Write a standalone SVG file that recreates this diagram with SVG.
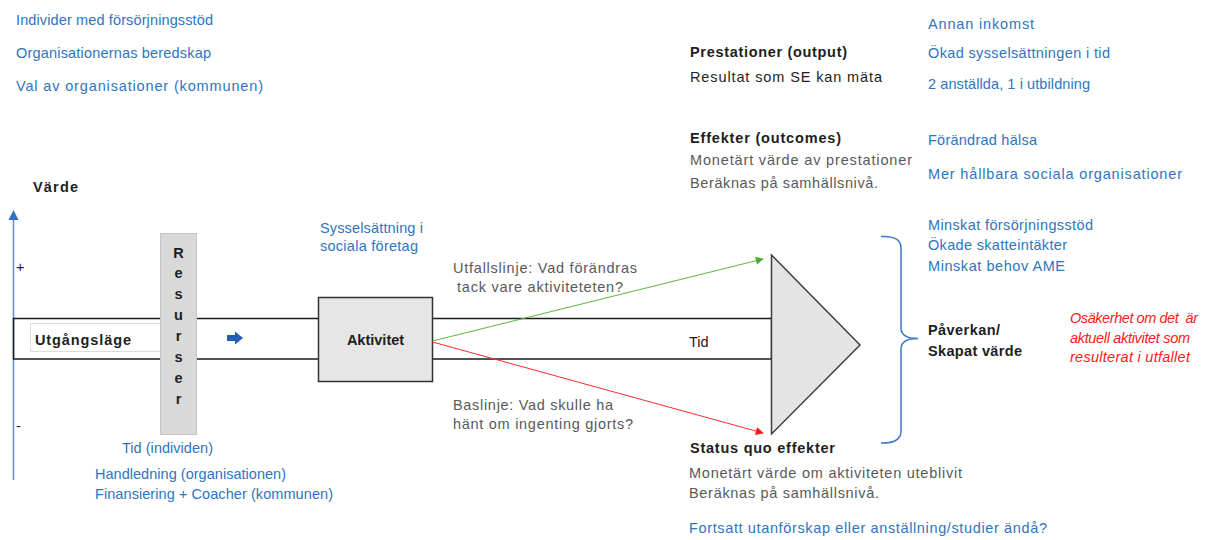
<svg xmlns="http://www.w3.org/2000/svg" width="1214" height="540" viewBox="0 0 1214 540">
  <style>
    text { font-family: "Liberation Sans", Arial, sans-serif; font-size: 14.5px; }
    .blue { fill: #2e75c0; }
    .gray { fill: #595959; }
    .dark { fill: #1e1e1e; }
    .b { font-weight: bold; }
    .red { fill: #ff1a1a; font-style: italic; font-size: 14px; }
    .line { stroke: #1a1a1a; stroke-width: 1.5; fill: none; }
  </style>
  <defs>
    <marker id="headGreen" viewBox="0 0 10 10" refX="9" refY="5" markerWidth="10" markerHeight="8" markerUnits="userSpaceOnUse" orient="auto">
      <path d="M0,0 L10,5 L0,10 Z" fill="#4caf30"/>
    </marker>
    <marker id="headRed" viewBox="0 0 10 10" refX="9" refY="5" markerWidth="10" markerHeight="8" markerUnits="userSpaceOnUse" orient="auto">
      <path d="M0,0 L10,5 L0,10 Z" fill="#ff1a1a"/>
    </marker>
  </defs>

  <rect width="1214" height="540" fill="#ffffff"/>

  <!-- value axis -->
  <g id="axis">
    <line x1="13.5" y1="218" x2="13.5" y2="480" stroke="#5b8fd0" stroke-width="1.5"/>
    <path d="M13.5,210 L18.5,220 L8.5,220 Z" fill="#2f6fc4"/>
    <text x="33" y="192" class="dark b" font-size="15" textLength="45">Värde</text>
    <text x="16" y="272" class="dark" font-size="13">+</text>
    <text x="16" y="431" class="dark" font-size="13">-</text>
  </g>

  <!-- time band -->
  <g id="band">
    <rect x="13.5" y="318.5" width="758" height="40.5" fill="#ffffff" class="line"/>
    <text x="689" y="347" class="dark" font-size="16.5">Tid</text>
  </g>

  <g id="utgangslage">
    <rect x="30.5" y="323.5" width="130" height="28" fill="#ffffff" stroke="#dcdcdc" stroke-width="1"/>
    <text x="35" y="345" class="dark b" font-size="16" textLength="96">Utgångsläge</text>
  </g>

  <g id="resurser">
    <rect x="160.5" y="233.5" width="36" height="201" fill="#d9d9d9" stroke="#c4c4c4" stroke-width="1"/>
    <g class="dark b" font-size="18" text-anchor="middle">
      <text x="178.5" y="258">R</text>
      <text x="178.5" y="278">e</text>
      <text x="178.5" y="299">s</text>
      <text x="178.5" y="320">u</text>
      <text x="178.5" y="341">r</text>
      <text x="178.5" y="362">s</text>
      <text x="178.5" y="383">e</text>
      <text x="178.5" y="404">r</text>
    </g>
  </g>

  <!-- small block arrow inside the band -->
  <g id="flow-arrow">
    <path d="M227,335 L235,335 L235,331.5 L243,338 L235,344.5 L235,341 L227,341 Z" fill="#1f5fb4"/>
  </g>

  <g id="aktivitet">
    <rect x="318.5" y="297.5" width="114" height="84" fill="#e6e6e6" stroke="#333333" stroke-width="1.5"/>
    <text x="375.5" y="345" class="dark b" font-size="16" text-anchor="middle">Aktivitet</text>
  </g>

  <g id="impact-triangle">
    <polygon points="771.5,255 771.5,434 860,345" fill="#e4e4e4" stroke="#404040" stroke-width="1.5" stroke-linejoin="miter"/>
  </g>

  <g id="connectors">
    <line x1="432.5" y1="341" x2="763" y2="259" stroke="#5cb540" stroke-width="1" marker-end="url(#headGreen)"/>
    <line x1="432.5" y1="342" x2="763" y2="433" stroke="#ff2a2a" stroke-width="1" marker-end="url(#headRed)"/>
  </g>

  <!-- brace grouping the impact outcomes -->
  <g id="brace">
    <path d="M881,236.5 Q901,235.5 901,248 L901,328 Q901,338.5 918,338.5 Q901,338.5 901,349 L901,431 Q901,443.5 881,443" fill="none" stroke="#3a78c8" stroke-width="1.5"/>
  </g>

  <!-- inputs, top left -->
  <g id="inputs" class="blue">
    <text x="16" y="25" font-size="12.5" textLength="197">Individer med försörjningsstöd</text>
    <text x="16" y="58" font-size="13.5" textLength="195">Organisationernas beredskap</text>
    <text x="16" y="91" font-size="15" textLength="247">Val av organisationer (kommunen)</text>
  </g>

  <g id="activity-note" class="blue">
    <text x="320" y="233" textLength="103">Sysselsättning i</text>
    <text x="320" y="251" textLength="98">sociala företag</text>
  </g>

  <g id="resource-notes" class="blue" font-size="14">
    <text x="122" y="453" textLength="91">Tid (individen)</text>
    <text x="95" y="479" textLength="191">Handledning (organisationen)</text>
    <text x="95" y="499" textLength="238">Finansiering + Coacher (kommunen)</text>
  </g>

  <g id="outcome-line-label" class="gray" font-size="15.5">
    <text x="453" y="273" textLength="184">Utfallslinje: Vad förändras</text>
    <text x="457" y="292" textLength="166">tack vare aktiviteteten?</text>
  </g>

  <g id="baseline-label" class="gray" font-size="15.5">
    <text x="453" y="410" textLength="160">Baslinje: Vad skulle ha</text>
    <text x="453" y="429" textLength="180">hänt om ingenting gjorts?</text>
  </g>

  <g id="outputs">
    <text x="690" y="57" class="dark b" font-size="15" textLength="157">Prestationer (output)</text>
    <text x="690" y="82" class="dark" textLength="192">Resultat som SE kan mäta</text>
  </g>

  <g id="outcomes">
    <text x="690" y="143" class="dark b" font-size="15" textLength="151">Effekter (outcomes)</text>
    <text x="690" y="165" class="gray" textLength="222">Monetärt värde av prestationer</text>
    <text x="690" y="188" class="gray" textLength="188">Beräknas på samhällsnivå.</text>
  </g>

  <g id="output-examples" class="blue" font-size="15">
    <text x="928" y="29" textLength="106">Annan inkomst</text>
    <text x="928" y="58" textLength="182">Ökad sysselsättningen i tid</text>
    <text x="928" y="89" font-size="13.5" textLength="162">2 anställda, 1 i utbildning</text>
    <text x="928" y="145" textLength="109">Förändrad hälsa</text>
    <text x="928" y="179" textLength="254">Mer hållbara sociala organisationer</text>
  </g>

  <g id="impact-examples" class="blue" font-size="15">
    <text x="928" y="230" textLength="165">Minskat försörjningsstöd</text>
    <text x="928" y="250" textLength="139">Ökade skatteintäkter</text>
    <text x="928" y="271" textLength="137">Minskat behov AME</text>
  </g>

  <g id="impact">
    <text x="928" y="335" class="dark b" font-size="15" textLength="72">Påverkan/</text>
    <text x="928" y="356" class="dark b" font-size="15" textLength="94">Skapat värde</text>
  </g>

  <g id="uncertainty" class="red">
    <text x="1070" y="323" textLength="128">Osäkerhet om det&#160; är</text>
    <text x="1070" y="343" textLength="120">aktuell aktivitet som</text>
    <text x="1070" y="362" textLength="120">resulterat i utfallet</text>
  </g>

  <g id="status-quo">
    <text x="690" y="453" class="dark b" font-size="15" textLength="145">Status quo effekter</text>
    <text x="689" y="478" class="gray" textLength="273">Monetärt värde om aktiviteten uteblivit</text>
    <text x="689" y="498" class="gray" textLength="190">Beräknas på samhällsnivå.</text>
    <text x="689" y="533" class="blue" font-size="15" textLength="358">Fortsatt utanförskap eller anställning/studier ändå?</text>
  </g>
</svg>
